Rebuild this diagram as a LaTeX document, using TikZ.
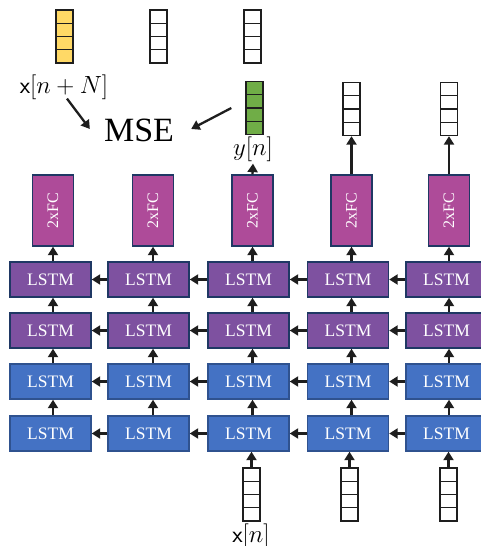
\documentclass[tikz,border=0pt]{standalone}
\usepackage{fontspec}
\setmainfont{Liberation Serif}
\usetikzlibrary{arrows.meta,calc}
\definecolor{lpurple}{RGB}{126,81,160}
\definecolor{fcmag}{RGB}{174,75,153}
\definecolor{lblue}{RGB}{68,114,196}
\definecolor{navy}{RGB}{31,56,100}
\definecolor{bblue}{RGB}{47,82,143}
\definecolor{vyellow}{RGB}{255,217,102}
\definecolor{vgreen}{RGB}{112,173,71}
\definecolor{ink}{RGB}{30,30,30}
\begin{document}
\begin{tikzpicture}[x=1pt,y=-1pt,
  lstm/.style={draw, line width=1.4pt, minimum width=81pt, minimum height=35pt, inner sep=0pt,
    text=white, font=\fontsize{17.5}{20}\selectfont},
  lp/.style={lstm, fill=lpurple, draw=navy},
  lb/.style={lstm, fill=lblue, draw=bblue},
  fc/.style={draw=navy, fill=fcmag, line width=1.4pt, minimum width=41pt, minimum height=71pt,
    inner sep=0pt, text=white, font=\fontsize{16}{19}\selectfont},
  arr/.style={draw=ink, line width=2.3pt, -{Triangle[length=8.5pt,width=10pt]}},
  vec/.style={draw=ink, line width=1.3pt, minimum width=17pt, minimum height=53pt, inner sep=0pt,
    path picture={\foreach \f in {0.25,0.5,0.75}{\draw[ink, line width=1.3pt]
      ($(path picture bounding box.north west)!\f!(path picture bounding box.south west)$) --
      ($(path picture bounding box.north east)!\f!(path picture bounding box.south east)$);}}},
  lab/.style={inner sep=0pt, font=\fontsize{24}{28}\selectfont}
]
\useasboundingbox (0,0) rectangle (481,546);
\clip (0,0) rectangle (481,546);

% columns
\foreach \i/\cx/\lx in {1/53/50.5, 2/153/148.5, 3/252.5/248.5, 4/351.5/348, 5/449/446.5} {
  \node[fc] (fc\i) at (\cx,210.5) {\rotatebox{90}{2xFC}};
  \node[lp] (a\i) at (\lx,279.5) {LSTM};
  \node[lp] (b\i) at (\lx,330.5) {LSTM};
  \node[lb] (c\i) at (\lx,381.5) {LSTM};
  \node[lb] (d\i) at (\lx,433.5) {LSTM};
}

% vertical arrows
\foreach \i in {1,...,5} {
  \draw[arr] (d\i.north -| fc\i) -- (c\i.south -| fc\i);
  \draw[arr] (c\i.north -| fc\i) -- (b\i.south -| fc\i);
  \draw[arr] (b\i.north -| fc\i) -- (a\i.south -| fc\i);
  \draw[arr] (a\i.north -| fc\i) -- (fc\i.south);
}

% horizontal (backward) arrows
\foreach \i/\j in {1/2,2/3,3/4,4/5} {
  \foreach \r in {a,b,c,d} {
    \draw[arr] (\r\j.west) -- (\r\i.east);
  }
}

% top vectors
\node[vec, fill=vyellow] (ty) at (64.5,36.5) {};
\node[vec, fill=white] (tw2) at (158.5,36.5) {};
\node[vec, fill=white] (tw3) at (252.5,36.5) {};

% output vectors
\node[vec, fill=vgreen] (yv) at (254.5,108) {};
\node[vec, fill=white] (out4) at (351.5,109) {};
\node[vec, fill=white] (out5) at (449,109) {};

% input vectors
\node[vec, fill=white] (in3) at (251.5,494.5) {};
\node[vec, fill=white] (in4) at (349.5,494.5) {};
\node[vec, fill=white] (in5) at (448.5,494.5) {};

% labels
\node[lab] (xl) at (64,87) {$\mathsf{x}[n+N]$};
\node[lab] (yl) at (253,149) {$y[n]$};
\node[lab] (xn) at (251,536) {$\mathsf{x}[n]$};
\node[inner sep=0pt, font=\fontsize{34}{40}\selectfont] (mse) at (139,130) {MSE};

% output arrows
\draw[arr] (fc3.north) -- ([yshift=-2pt]yl.south);
\draw[arr] (fc4.north) -- (out4.south);
\draw[arr] (fc5.north) -- (out5.south);

% input arrows
\foreach \k in {3,4,5} {
  \draw[arr] (in\k.north) -- (in\k.north |- d\k.south);
}

% MSE arrows
\draw[arr] ($(xl.south)+(3,-1)$) -- ($(mse.west)+(-14,-1)$);
\draw[arr] ($(yv.west)+(-14,0)$) -- ($(mse.east)+(17,-1)$);
\end{tikzpicture}
\end{document}
